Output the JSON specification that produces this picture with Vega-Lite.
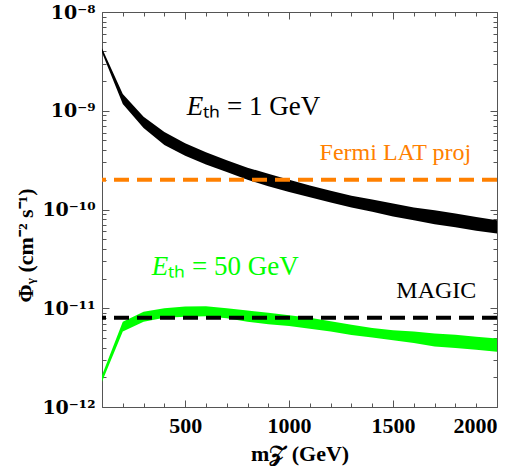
{
  "$schema": "https://vega.github.io/schema/vega-lite/v6.json",
  "width": 395,
  "height": 395,
  "autosize": {"type": "none"},
  "padding": {"left": 102, "top": 12, "right": 25, "bottom": 59},
  "background": "white",
  "config": {
    "view": {"stroke": "#555555", "strokeWidth": 1},
    "text": {"font": "Liberation Serif"},
    "axis": {
      "grid": false,
      "domain": false,
      "tickColor": "#555555",
      "tickWidth": 1,
      "labelFont": "Liberation Serif",
      "labelFontWeight": "bold",
      "labelFontSize": 22,
      "labelColor": "black",
      "titleFont": "Liberation Serif",
      "titleFontWeight": "bold",
      "titleFontSize": 22,
      "titleColor": "black"
    }
  },
  "resolve": {"axis": {"x": "independent", "y": "independent"}},
  "layer": [
    {
      "data": {"values": [
        {"s": "1 GeV", "m": 100, "lo": 3.9e-9, "hi": 4.3e-9},
        {"s": "1 GeV", "m": 200, "lo": 1.17e-9, "hi": 1.48e-9},
        {"s": "1 GeV", "m": 300, "lo": 6.7e-10, "hi": 8.7e-10},
        {"s": "1 GeV", "m": 400, "lo": 4.5e-10, "hi": 6.1e-10},
        {"s": "1 GeV", "m": 500, "lo": 3.5e-10, "hi": 4.7e-10},
        {"s": "1 GeV", "m": 600, "lo": 2.85e-10, "hi": 3.8e-10},
        {"s": "1 GeV", "m": 700, "lo": 2.4e-10, "hi": 3.15e-10},
        {"s": "1 GeV", "m": 800, "lo": 2.0e-10, "hi": 2.65e-10},
        {"s": "1 GeV", "m": 900, "lo": 1.72e-10, "hi": 2.3e-10},
        {"s": "1 GeV", "m": 1000, "lo": 1.5e-10, "hi": 2.0e-10},
        {"s": "1 GeV", "m": 1100, "lo": 1.33e-10, "hi": 1.75e-10},
        {"s": "1 GeV", "m": 1200, "lo": 1.18e-10, "hi": 1.55e-10},
        {"s": "1 GeV", "m": 1300, "lo": 1.05e-10, "hi": 1.38e-10},
        {"s": "1 GeV", "m": 1400, "lo": 9.5e-11, "hi": 1.26e-10},
        {"s": "1 GeV", "m": 1500, "lo": 8.5e-11, "hi": 1.15e-10},
        {"s": "1 GeV", "m": 1600, "lo": 7.8e-11, "hi": 1.05e-10},
        {"s": "1 GeV", "m": 1700, "lo": 7.1e-11, "hi": 9.8e-11},
        {"s": "1 GeV", "m": 1800, "lo": 6.6e-11, "hi": 9.1e-11},
        {"s": "1 GeV", "m": 1900, "lo": 6.1e-11, "hi": 8.4e-11},
        {"s": "1 GeV", "m": 2000, "lo": 5.7e-11, "hi": 7.8e-11},
        {"s": "50 GeV", "m": 100, "lo": 1.8e-12, "hi": 2.1e-12},
        {"s": "50 GeV", "m": 200, "lo": 5.8e-12, "hi": 7.3e-12},
        {"s": "50 GeV", "m": 300, "lo": 7.3e-12, "hi": 9.2e-12},
        {"s": "50 GeV", "m": 400, "lo": 8.0e-12, "hi": 1.0e-11},
        {"s": "50 GeV", "m": 500, "lo": 8.2e-12, "hi": 1.04e-11},
        {"s": "50 GeV", "m": 600, "lo": 8.3e-12, "hi": 1.05e-11},
        {"s": "50 GeV", "m": 700, "lo": 7.9e-12, "hi": 1.0e-11},
        {"s": "50 GeV", "m": 800, "lo": 7.3e-12, "hi": 9.5e-12},
        {"s": "50 GeV", "m": 900, "lo": 6.9e-12, "hi": 9.0e-12},
        {"s": "50 GeV", "m": 1000, "lo": 6.6e-12, "hi": 8.5e-12},
        {"s": "50 GeV", "m": 1100, "lo": 6.2e-12, "hi": 8.0e-12},
        {"s": "50 GeV", "m": 1200, "lo": 5.8e-12, "hi": 7.4e-12},
        {"s": "50 GeV", "m": 1300, "lo": 5.35e-12, "hi": 6.8e-12},
        {"s": "50 GeV", "m": 1400, "lo": 5.05e-12, "hi": 6.3e-12},
        {"s": "50 GeV", "m": 1500, "lo": 4.75e-12, "hi": 6.0e-12},
        {"s": "50 GeV", "m": 1600, "lo": 4.45e-12, "hi": 5.8e-12},
        {"s": "50 GeV", "m": 1700, "lo": 4.1e-12, "hi": 5.55e-12},
        {"s": "50 GeV", "m": 1800, "lo": 3.95e-12, "hi": 5.4e-12},
        {"s": "50 GeV", "m": 1900, "lo": 3.8e-12, "hi": 5.15e-12},
        {"s": "50 GeV", "m": 2000, "lo": 3.63e-12, "hi": 4.95e-12}
      ]},
      "mark": {"type": "area", "opacity": 1},
      "encoding": {
        "x": {
          "field": "m", "type": "quantitative",
          "scale": {"domain": [100, 2000], "nice": false, "zero": false},
          "axis": {
            "orient": "bottom",
            "values": [100,200,300,400,500,600,700,800,900,1000,1100,1200,1300,1400,1500,1600,1700,1800,1900,2000],
            "labelExpr": "datum.value % 500 === 0 ? datum.label : ''",
            "format": "d",
            "tickSize": {"condition": {"test": "datum.value % 500 === 0", "value": -7}, "value": -4},
            "labelPadding": 15,
            "title": "m𝒵 (GeV)",
            "titleY": 53,
            "titleBaseline": "alphabetic"
          }
        },
        "y": {
          "field": "hi", "type": "quantitative",
          "scale": {"type": "log", "domain": [1e-12, 1e-8], "nice": false},
          "axis": {
            "orient": "left",
            "values": [1e-12,2e-12,3e-12,4e-12,5e-12,6e-12,7e-12,8e-12,9e-12,1e-11,2e-11,3e-11,4e-11,5e-11,6e-11,7e-11,8e-11,9e-11,1e-10,2e-10,3e-10,4e-10,5e-10,6e-10,7e-10,8e-10,9e-10,1e-9,2e-9,3e-9,4e-9,5e-9,6e-9,7e-9,8e-9,9e-9,1e-8],
            "labelExpr": "abs(log(datum.value)/LN10 - round(log(datum.value)/LN10)) > 0.001 ? '' : round(log(datum.value)/LN10) == -8 ? '10⁻⁸' : round(log(datum.value)/LN10) == -9 ? '10⁻⁹' : round(log(datum.value)/LN10) == -10 ? '10⁻¹⁰' : round(log(datum.value)/LN10) == -11 ? '10⁻¹¹' : '10⁻¹²'",
            "labelFont": "DejaVu Serif",
            "labelFontSize": 19,
            "tickSize": {"condition": {"test": "abs(log(datum.value)/LN10 - round(log(datum.value)/LN10)) < 0.001", "value": -7}, "value": -4},
            "labelPadding": 14,
            "title": "Φᵧ (cm⁻² s⁻¹)",
            "titleX": -77,
            "titleY": 233,
            "titleAngle": -90,
            "titleAlign": "center",
            "titleBaseline": "middle"
          }
        },
        "y2": {"field": "lo"},
        "color": {
          "field": "s", "type": "nominal",
          "scale": {"domain": ["1 GeV", "50 GeV"], "range": ["#000000", "#00ff00"]},
          "legend": null
        }
      }
    },
    {
      "data": {"values": [{"v": 2e-10}]},
      "mark": {"type": "rule", "color": "#ff8000", "strokeWidth": 4, "strokeDash": [15, 8]},
      "encoding": {
        "y": {"field": "v", "type": "quantitative", "scale": {"type": "log", "domain": [1e-12, 1e-8], "nice": false}, "axis": null}
      }
    },
    {
      "data": {"values": [{"v": 8e-12}]},
      "mark": {"type": "rule", "color": "#000000", "strokeWidth": 4, "strokeDash": [15, 8]},
      "encoding": {
        "y": {"field": "v", "type": "quantitative", "scale": {"type": "log", "domain": [1e-12, 1e-8], "nice": false}, "axis": null}
      }
    },
    {
      "data": {"values": [{"m": 1511, "v": 3.17e-10, "t": "Fermi LAT proj"}]},
      "mark": {"type": "text", "font": "Liberation Serif", "fontSize": 24, "color": "#ff8000", "align": "center", "baseline": "alphabetic"},
      "encoding": {
        "x": {
          "field": "m", "type": "quantitative",
          "scale": {"domain": [100, 2000], "nice": false, "zero": false},
          "axis": {
            "orient": "top", "labels": false, "title": null,
            "values": [100,200,300,400,500,600,700,800,900,1000,1100,1200,1300,1400,1500,1600,1700,1800,1900,2000],
            "tickSize": {"condition": {"test": "datum.value % 500 === 0", "value": -7}, "value": -4}
          }
        },
        "y": {
          "field": "v", "type": "quantitative",
          "scale": {"type": "log", "domain": [1e-12, 1e-8], "nice": false},
          "axis": {
            "orient": "right", "labels": false, "title": null,
            "values": [1e-12,2e-12,3e-12,4e-12,5e-12,6e-12,7e-12,8e-12,9e-12,1e-11,2e-11,3e-11,4e-11,5e-11,6e-11,7e-11,8e-11,9e-11,1e-10,2e-10,3e-10,4e-10,5e-10,6e-10,7e-10,8e-10,9e-10,1e-9,2e-9,3e-9,4e-9,5e-9,6e-9,7e-9,8e-9,9e-9,1e-8],
            "tickSize": {"condition": {"test": "abs(log(datum.value)/LN10 - round(log(datum.value)/LN10)) < 0.001", "value": -7}, "value": -4}
          }
        },
        "text": {"field": "t"}
      }
    },
    {
      "data": {"values": [{"m": 1708, "v": 1.26e-11, "t": "MAGIC"}]},
      "mark": {"type": "text", "font": "Liberation Serif", "fontSize": 24, "color": "#000000", "align": "center", "baseline": "alphabetic"},
      "encoding": {
        "x": {"field": "m", "type": "quantitative", "scale": {"domain": [100, 2000], "nice": false, "zero": false}, "axis": null},
        "y": {"field": "v", "type": "quantitative", "scale": {"type": "log", "domain": [1e-12, 1e-8], "nice": false}, "axis": null},
        "text": {"field": "t"}
      }
    },
    {
      "data": {"values": [{"m": 587, "v": 9.06e-10, "t": "E"}, {"m": 419, "v": 2.17e-11, "t": "E"}]},
      "mark": {"type": "text", "font": "Liberation Serif", "fontSize": 27, "fontStyle": "italic", "align": "right", "baseline": "alphabetic"},
      "encoding": {
        "x": {"field": "m", "type": "quantitative", "scale": {"domain": [100, 2000], "nice": false, "zero": false}, "axis": null},
        "y": {"field": "v", "type": "quantitative", "scale": {"type": "log", "domain": [1e-12, 1e-8], "nice": false}, "axis": null},
        "text": {"field": "t"},
        "color": {"field": "m", "type": "nominal", "scale": {"domain": [587, 419], "range": ["#000000", "#00ff00"]}, "legend": null}
      }
    },
    {
      "data": {"values": [{"m": 587, "v": 9.06e-10, "t": "ₜₕ = 1 GeV"}, {"m": 419, "v": 2.17e-11, "t": "ₜₕ = 50 GeV"}]},
      "mark": {"type": "text", "font": "Liberation Serif", "fontSize": 27, "align": "left", "baseline": "alphabetic"},
      "encoding": {
        "x": {"field": "m", "type": "quantitative", "scale": {"domain": [100, 2000], "nice": false, "zero": false}, "axis": null},
        "y": {"field": "v", "type": "quantitative", "scale": {"type": "log", "domain": [1e-12, 1e-8], "nice": false}, "axis": null},
        "text": {"field": "t"},
        "color": {"field": "m", "type": "nominal", "scale": {"domain": [587, 419], "range": ["#000000", "#00ff00"]}, "legend": null}
      }
    }
  ]
}
